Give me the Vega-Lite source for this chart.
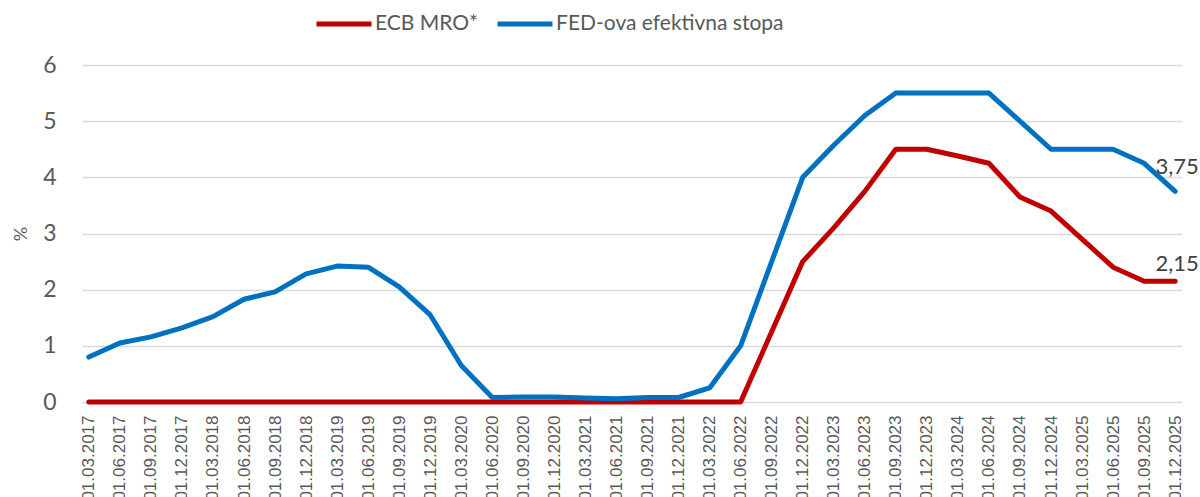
{
  "$schema": "https://vega.github.io/schema/vega-lite/v6.json",
  "width": 1100,
  "height": 337,
  "autosize": {"type": "none"},
  "padding": {"left": 82, "top": 65, "right": 18, "bottom": 95},
  "background": "white",
  "config": {
    "view": {"stroke": null},
    "locale": {"number": {"decimal": ",", "thousands": ".", "grouping": [3], "currency": ["", " €"]}}
  },
  "data": {
    "values": [
      {"d": "01.03.2017", "ecb": 0, "fed": 0.80},
      {"d": "01.06.2017", "ecb": 0, "fed": 1.05},
      {"d": "01.09.2017", "ecb": 0, "fed": 1.16},
      {"d": "01.12.2017", "ecb": 0, "fed": 1.32},
      {"d": "01.03.2018", "ecb": 0, "fed": 1.52},
      {"d": "01.06.2018", "ecb": 0, "fed": 1.83},
      {"d": "01.09.2018", "ecb": 0, "fed": 1.96},
      {"d": "01.12.2018", "ecb": 0, "fed": 2.28},
      {"d": "01.03.2019", "ecb": 0, "fed": 2.42},
      {"d": "01.06.2019", "ecb": 0, "fed": 2.40},
      {"d": "01.09.2019", "ecb": 0, "fed": 2.05},
      {"d": "01.12.2019", "ecb": 0, "fed": 1.55},
      {"d": "01.03.2020", "ecb": 0, "fed": 0.65},
      {"d": "01.06.2020", "ecb": 0, "fed": 0.08},
      {"d": "01.09.2020", "ecb": 0, "fed": 0.09},
      {"d": "01.12.2020", "ecb": 0, "fed": 0.09},
      {"d": "01.03.2021", "ecb": 0, "fed": 0.07},
      {"d": "01.06.2021", "ecb": 0, "fed": 0.06},
      {"d": "01.09.2021", "ecb": 0, "fed": 0.08},
      {"d": "01.12.2021", "ecb": 0, "fed": 0.08},
      {"d": "01.03.2022", "ecb": 0, "fed": 0.25},
      {"d": "01.06.2022", "ecb": 0, "fed": 1.00},
      {"d": "01.09.2022", "ecb": 1.25, "fed": 2.50},
      {"d": "01.12.2022", "ecb": 2.50, "fed": 4.00},
      {"d": "01.03.2023", "ecb": 3.10, "fed": 4.57},
      {"d": "01.06.2023", "ecb": 3.75, "fed": 5.10},
      {"d": "01.09.2023", "ecb": 4.50, "fed": 5.50},
      {"d": "01.12.2023", "ecb": 4.50, "fed": 5.50},
      {"d": "01.03.2024", "ecb": 4.38, "fed": 5.50},
      {"d": "01.06.2024", "ecb": 4.25, "fed": 5.50},
      {"d": "01.09.2024", "ecb": 3.65, "fed": 5.00},
      {"d": "01.12.2024", "ecb": 3.40, "fed": 4.50},
      {"d": "01.03.2025", "ecb": 2.90, "fed": 4.50},
      {"d": "01.06.2025", "ecb": 2.40, "fed": 4.50},
      {"d": "01.09.2025", "ecb": 2.15, "fed": 4.25},
      {"d": "01.12.2025", "ecb": 2.15, "fed": 3.75}
    ]
  },
  "transform": [
    {"fold": ["ecb", "fed"], "as": ["key", "value"]},
    {"lookup": "key", "from": {"data": {"values": [{"key": "ecb", "series": "ECB MRO*"}, {"key": "fed", "series": "FED-ova efektivna stopa"}]}, "key": "key", "fields": ["series"]}}
  ],
  "encoding": {
    "x": {
      "field": "d", "type": "ordinal", "sort": null,
      "scale": {"type": "point", "padding": 0.22},
      "axis": {"title": null, "labelAngle": -90, "labelFont": "Liberation Sans", "labelFontSize": 17, "labelColor": "#595959", "labelPadding": 13, "domain": false, "ticks": false, "grid": false, "labelOverlap": false}
    },
    "y": {
      "field": "value", "type": "quantitative",
      "scale": {"domain": [0, 6], "nice": false},
      "axis": {"title": "%", "titleFont": "Lato", "titleFontSize": 18, "titleFontWeight": "normal", "titleColor": "#595959", "titlePadding": 12, "values": [0, 1, 2, 3, 4, 5, 6], "labelFont": "Lato", "labelFontSize": 23, "labelColor": "#595959", "labelPadding": 26, "domain": false, "ticks": false, "grid": true, "gridColor": "#D9D9D9", "gridWidth": 1.5}
    }
  },
  "layer": [
    {
      "mark": {"type": "line", "strokeWidth": 5, "strokeCap": "round", "strokeJoin": "round"},
      "encoding": {
        "color": {
          "field": "series", "type": "nominal",
          "scale": {"domain": ["ECB MRO*", "FED-ova efektivna stopa"], "range": ["#C00000", "#0070C0"]},
          "legend": {"title": null, "orient": "none", "direction": "horizontal", "legendX": 232, "legendY": -71, "padding": 0, "symbolType": "stroke", "symbolSize": 3025, "symbolStrokeWidth": 5, "labelFont": "Lato", "labelFontSize": 21, "labelColor": "#595959", "labelOffset": 1, "labelLimit": 500, "columnPadding": 8}
        }
      }
    },
    {
      "transform": [{"filter": "datum.d == '01.12.2025' && datum.key == 'fed'"}],
      "mark": {"type": "text", "font": "Lato", "fontSize": 22, "color": "#404040", "dy": -24, "dx": 2, "align": "center", "baseline": "middle"},
      "encoding": {"text": {"field": "value", "type": "quantitative", "format": ".2f"}}
    },
    {
      "transform": [{"filter": "datum.d == '01.12.2025' && datum.key == 'ecb'"}],
      "mark": {"type": "text", "font": "Lato", "fontSize": 22, "color": "#404040", "dy": -17, "dx": 2, "align": "center", "baseline": "middle"},
      "encoding": {"text": {"field": "value", "type": "quantitative", "format": ".2f"}}
    }
  ]
}
